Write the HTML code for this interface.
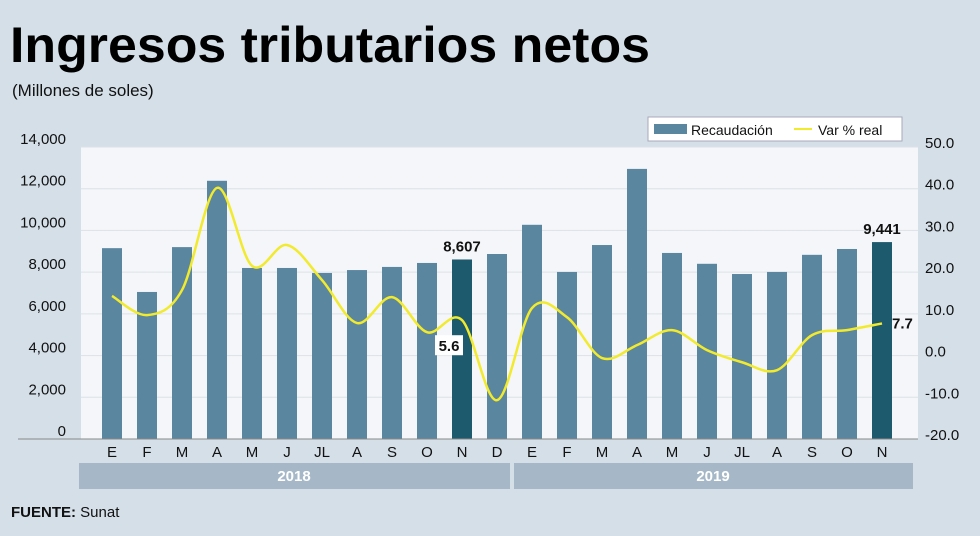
<!DOCTYPE html>
<html><head><meta charset="utf-8"><style>
body{margin:0;background:#d5dfe8;width:980px;height:531px;overflow:hidden;font-family:"Liberation Sans",sans-serif}
</style></head><body>
<svg width="980" height="531" xmlns="http://www.w3.org/2000/svg">
<rect width="980" height="531" fill="#d5dfe8"/>
<text x="10" y="62" font-size="50" font-weight="bold" fill="#000" textLength="640" lengthAdjust="spacingAndGlyphs">Ingresos tributarios netos</text>
<text x="12" y="96" font-size="17" fill="#111">(Millones de soles)</text>
<rect x="81" y="147" width="837" height="292" fill="#f4f6f9"/>
<g id="grid"></g><g id="bars"></g><g id="line"></g><g id="axes"></g>
<g>
<rect x="648" y="117" width="254" height="24" fill="#fff" stroke="#aab"/>
<rect x="654" y="124" width="33" height="10" fill="#5a86a0"/>
<text x="691" y="135" font-size="14" fill="#111">Recaudación</text>
<line x1="794" y1="129" x2="812" y2="129" stroke="#f2ea2c" stroke-width="2"/>
<text x="818" y="135" font-size="14" fill="#111">Var % real</text>
</g>
<rect x="79" y="463" width="431" height="26" fill="#a6b8c7"/>
<text x="294" y="481" font-size="15" font-weight="bold" fill="#fff" text-anchor="middle">2018</text>
<rect x="514" y="463" width="399" height="26" fill="#a6b8c7"/>
<text x="713" y="481" font-size="15" font-weight="bold" fill="#fff" text-anchor="middle">2019</text>
<text x="11" y="517" font-size="15" fill="#111"><tspan font-weight="bold">FUENTE:</tspan> Sunat</text>
</svg>
<script>
const months = ["E","F","M","A","M","J","JL","A","S","O","N","D","E","F","M","A","M","J","JL","A","S","O","N"];
const recaudacion = [9150,7050,9200,12380,8200,8200,7960,8100,8250,8440,8607,8870,10270,8010,9300,12950,8920,8400,7910,8010,8830,9110,9441];
const varReal = [14.3,9.7,15.7,40.2,21.5,26.5,18.1,7.8,14.0,5.6,8.5,-10.7,11.4,9.2,-0.6,2.5,6.1,1.3,-1.6,-3.5,4.9,6.1,7.7];
const leftTicks = [0,2000,4000,6000,8000,10000,12000,14000];
const rightTicks = [-20,-10,0,10,20,30,40,50];
const highlighted = [10,22];
const NS="http://www.w3.org/2000/svg";
const y0=439,topY=147;
const yL=v=>y0-(v/14000)*(y0-topY);
const yR=v=>y0-((v+20)/70)*(y0-topY);
const xC=i=>112+i*35;
function mk(tag,attrs,parent,txt){const e=document.createElementNS(NS,tag);for(const k in attrs)e.setAttribute(k,attrs[k]);if(txt!==undefined)e.textContent=txt;document.getElementById(parent).appendChild(e);return e;}
const fmt=v=>v.toLocaleString("en-US");
leftTicks.forEach((t,i)=>{
 if(t>0){const g=mk("line",{x1:81,x2:918,y1:yL(t),y2:yL(t),stroke:"#dde2e8","stroke-width":1},"grid");
 
 }
 const l=mk("text",{x:66,y:yL(t)-3,"font-size":15,fill:"#111","text-anchor":"end"},"axes",fmt(t));
 
 
});
rightTicks.forEach(t=>{
 const l=mk("text",{x:925,y:yR(t)+1,"font-size":15,fill:"#111"},"axes",t.toFixed(1));
 
 
});
const ax=mk("line",{x1:18,x2:918,y1:y0,y2:y0,stroke:"#888","stroke-width":1},"axes");


recaudacion.forEach((v,i)=>{
 const b=mk("rect",{x:xC(i)-10,y:yL(v),width:20,height:y0-yL(v),fill:highlighted.includes(i)?"#1e5a6e":"#5a86a0"},"bars");
 
 
 const m=mk("text",{x:xC(i),y:457,"font-size":15,fill:"#111","text-anchor":"middle"},"axes",months[i]);
 
 
});
const pts=varReal.map((v,i)=>[xC(i),yR(v)]);
let d="M"+pts[0][0]+","+pts[0][1];
for(let i=0;i<pts.length-1;i++){
 const p0=pts[Math.max(0,i-1)],p1=pts[i],p2=pts[i+1],p3=pts[Math.min(pts.length-1,i+2)];
 const c1=[p1[0]+(p2[0]-p0[0])/6,p1[1]+(p2[1]-p0[1])/6],c2=[p2[0]-(p3[0]-p1[0])/6,p2[1]-(p3[1]-p1[1])/6];
 d+=` C${c1[0]},${c1[1]} ${c2[0]},${c2[1]} ${p2[0]},${p2[1]}`;
}
const ln=mk("path",{d:d,fill:"none",stroke:"#f2ea2c","stroke-width":2.5},"line");


highlighted.forEach(i=>{
 const t=mk("text",{x:xC(i),y:yL(recaudacion[i])-8,"font-size":15,"font-weight":"bold",fill:"#111","text-anchor":"middle"},"axes",fmt(recaudacion[i]));
 
 
});
const bx=mk("rect",{x:xC(10)-27,y:yR(5.6)+3,width:28,height:20,fill:"#fff"},"axes");


const l1=mk("text",{x:xC(10)-13,y:yR(5.6)+19,"font-size":15,"font-weight":"bold",fill:"#111","text-anchor":"middle"},"axes",varReal[9].toFixed(1));


const l2=mk("text",{x:xC(22)+10,y:yR(varReal[22])+5,"font-size":15,"font-weight":"bold",fill:"#111"},"axes",varReal[22].toFixed(1));


</script>
</body></html>
